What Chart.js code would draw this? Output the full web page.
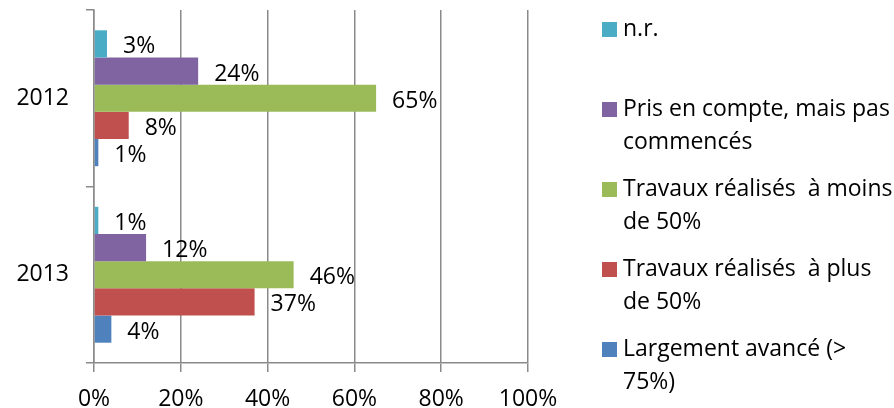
<!DOCTYPE html>
<html><head><meta charset="utf-8">
<script src="https://cdn.jsdelivr.net/npm/chart.js@4.4.1/dist/chart.umd.min.js"></script>
<style>html,body{margin:0;padding:0;background:#fff;overflow:hidden;} #wrap{width:894px;height:408px;position:relative;}</style>
</head><body><div id="wrap"><canvas id="c" width="894" height="408"></canvas></div>
<script>
// ---- data ----
const categories = ['2012', '2013'];
const seriesNames = [
  'n.r.',
  'Pris en compte, mais pas commencés',
  'Travaux réalisés  à moins de 50%',
  'Travaux réalisés  à plus de 50%',
  'Largement avancé (> 75%)'
];
const legendLines = [
  ['n.r.'],
  ['Pris en compte, mais pas', 'commencés'],
  ['Travaux réalisés  à moins', 'de 50%'],
  ['Travaux réalisés  à plus', 'de 50%'],
  ['Largement avancé (>', '75%)']
];
const nonRenseigne = [3, 1];
const prisEnCompte = [24, 12];
const moinsDe50 = [65, 46];
const plusDe50 = [8, 37];
const largementAvance = [1, 4];
const xTickValues = [0, 20, 40, 60, 80, 100];

// ---- style ----
const colors = ['#4BACC6', '#8064A2', '#9BBB59', '#C0504D', '#4F81BD'];
const FONT = '"Open Sans", "Noto Sans", sans-serif';
const FS = 23;
const axisGray = '#8a8a8a';

const seriesValues = [nonRenseigne, prisEnCompte, moinsDe50, plusDe50, largementAvance];

const labelPlugin = {
  id: 'valueLabels',
  afterDatasetsDraw(chart) {
    const ctx = chart.ctx;
    ctx.save();
    ctx.font = FS + 'px ' + FONT;
    ctx.fillStyle = '#000';
    ctx.textAlign = 'left';
    ctx.textBaseline = 'middle';
    chart.data.datasets.forEach((ds, i) => {
      const meta = chart.getDatasetMeta(i);
      meta.data.forEach((el, j) => {
        ctx.fillText(ds.data[j] + '%', el.x + 16, el.y + 3);
      });
    });
    ctx.restore();
  }
};

const legendPlugin = {
  id: 'sideLegend',
  afterDraw(chart) {
    const ctx = chart.ctx;
    ctx.save();
    ctx.font = FS + 'px ' + FONT;
    ctx.textAlign = 'left';
    ctx.textBaseline = 'middle';
    legendLines.forEach((lines, i) => {
      const y0 = 29.5 + i * 80;
      ctx.fillStyle = colors[i];
      ctx.fillRect(602, y0 - 7.5, 15, 15);
      ctx.fillStyle = '#000';
      lines.forEach((t, k) => ctx.fillText(t, 623, y0 + k * 32.5));
    });
    ctx.restore();
  }
};

new Chart(document.getElementById('c'), {
  type: 'bar',
  data: {
    labels: categories,
    datasets: seriesValues.map((vals, i) => ({
      label: seriesNames[i],
      data: vals,
      backgroundColor: colors[i],
      borderWidth: 0,
      categoryPercentage: 0.77,
      barPercentage: 1.0
    }))
  },
  options: {
    indexAxis: 'y',
    responsive: false,
    animation: false,
    devicePixelRatio: 1,
    layout: { padding: { top: 10, right: 366, left: 0, bottom: 0 } },
    plugins: { legend: { display: false }, tooltip: { enabled: false } },
    scales: {
      x: {
        min: 0, max: 100,
        afterBuildTicks(scale) { scale.ticks = xTickValues.map(v => ({ value: v })); },
        afterFit(scale) { scale.height = 45; scale.paddingLeft = 0; scale.paddingRight = 0; },
        ticks: {
          callback: v => v + '%',
          font: { family: FONT, size: FS },
          color: '#000',
          padding: 14,
          maxRotation: 0
        },
        grid: { color: axisGray, lineWidth: 1.5, tickLength: 9, drawOnChartArea: true },
        border: { display: true, color: axisGray, width: 1.5 }
      },
      y: {
        afterFit(scale) { scale.width = 94; scale.paddingTop = 0; scale.paddingBottom = 0; },
        ticks: {
          font: { family: FONT, size: FS },
          color: '#000',
          padding: 17
        },
        grid: { offset: true, drawOnChartArea: false, color: axisGray, lineWidth: 1.5, tickLength: 8 },
        border: { display: true, color: axisGray, width: 1.5 }
      }
    }
  },
  plugins: [labelPlugin, legendPlugin]
});
</script>
</body></html>
